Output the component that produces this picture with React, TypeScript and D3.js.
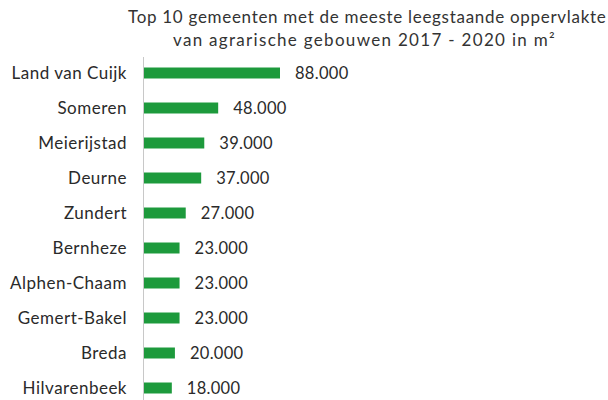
import React from "react";
import * as d3 from "d3";

const categories = ["Land van Cuijk", "Someren", "Meierijstad", "Deurne", "Zundert", "Bernheze", "Alphen-Chaam", "Gemert-Bakel", "Breda", "Hilvarenbeek"];
const values = [88000, 48000, 39000, 37000, 27000, 23000, 23000, 23000, 20000, 18000];
const titleLines = ["Top 10 gemeenten met de meeste leegstaande oppervlakte", "van agrarische gebouwen 2017 - 2020 in m²"];

const W = 608, H = 400;
const font = "Lato, 'Open Sans', sans-serif";

export default function App() {
  const x0 = 144;
  const x = d3.scaleLinear().domain([0, 88000]).range([x0, 280]);
  const y = d3.scaleBand<string>().domain(categories).range([55.5, 405.5]).paddingInner(0.686).paddingOuter(0.343);
  const loc = d3.formatLocale({ decimal: ",", thousands: ".", grouping: [3], currency: ["€", ""] });
  const fmt = loc.format(",d");
  return (
    <svg width={W} height={H} style={{ position: "absolute", left: 0, top: 0, background: "#fff" }}>
      <rect width={W} height={H} fill="#fff" />
      <text x={367} y={23} textAnchor="middle" fontFamily={font} fontSize={17} letterSpacing={0.3} fill="#333" textLength={478} lengthAdjust="spacing">{titleLines[0]}</text>
      <text x={364} y={46} textAnchor="middle" fontFamily={font} fontSize={17} letterSpacing={0.3} fill="#333" textLength={382} lengthAdjust="spacing">{titleLines[1]}</text>
      <line x1={143.5} x2={143.5} y1={57} y2={400} stroke="#c8c8c8" strokeWidth={1} />
      {categories.map((c, i) => {
        const yc = (y(c) as number) + y.bandwidth() / 2;
        return (
          <g key={c}>
            <rect x={x0} y={y(c)} width={x(values[i]) - x0} height={y.bandwidth()} fill="#1d9a3c" />
            <text x={127} y={yc} dy="0.35em" textAnchor="end" fontFamily={font} fontSize={17} letterSpacing={0.5} fill="#2a2a2a">{c}</text>
            <text x={x(values[i]) + 15} y={yc} dy="0.35em" fontFamily={font} fontSize={16.5} letterSpacing={0.3} fill="#2a2a2a">{fmt(values[i])}</text>
          </g>
        );
      })}
    </svg>
  );
}
